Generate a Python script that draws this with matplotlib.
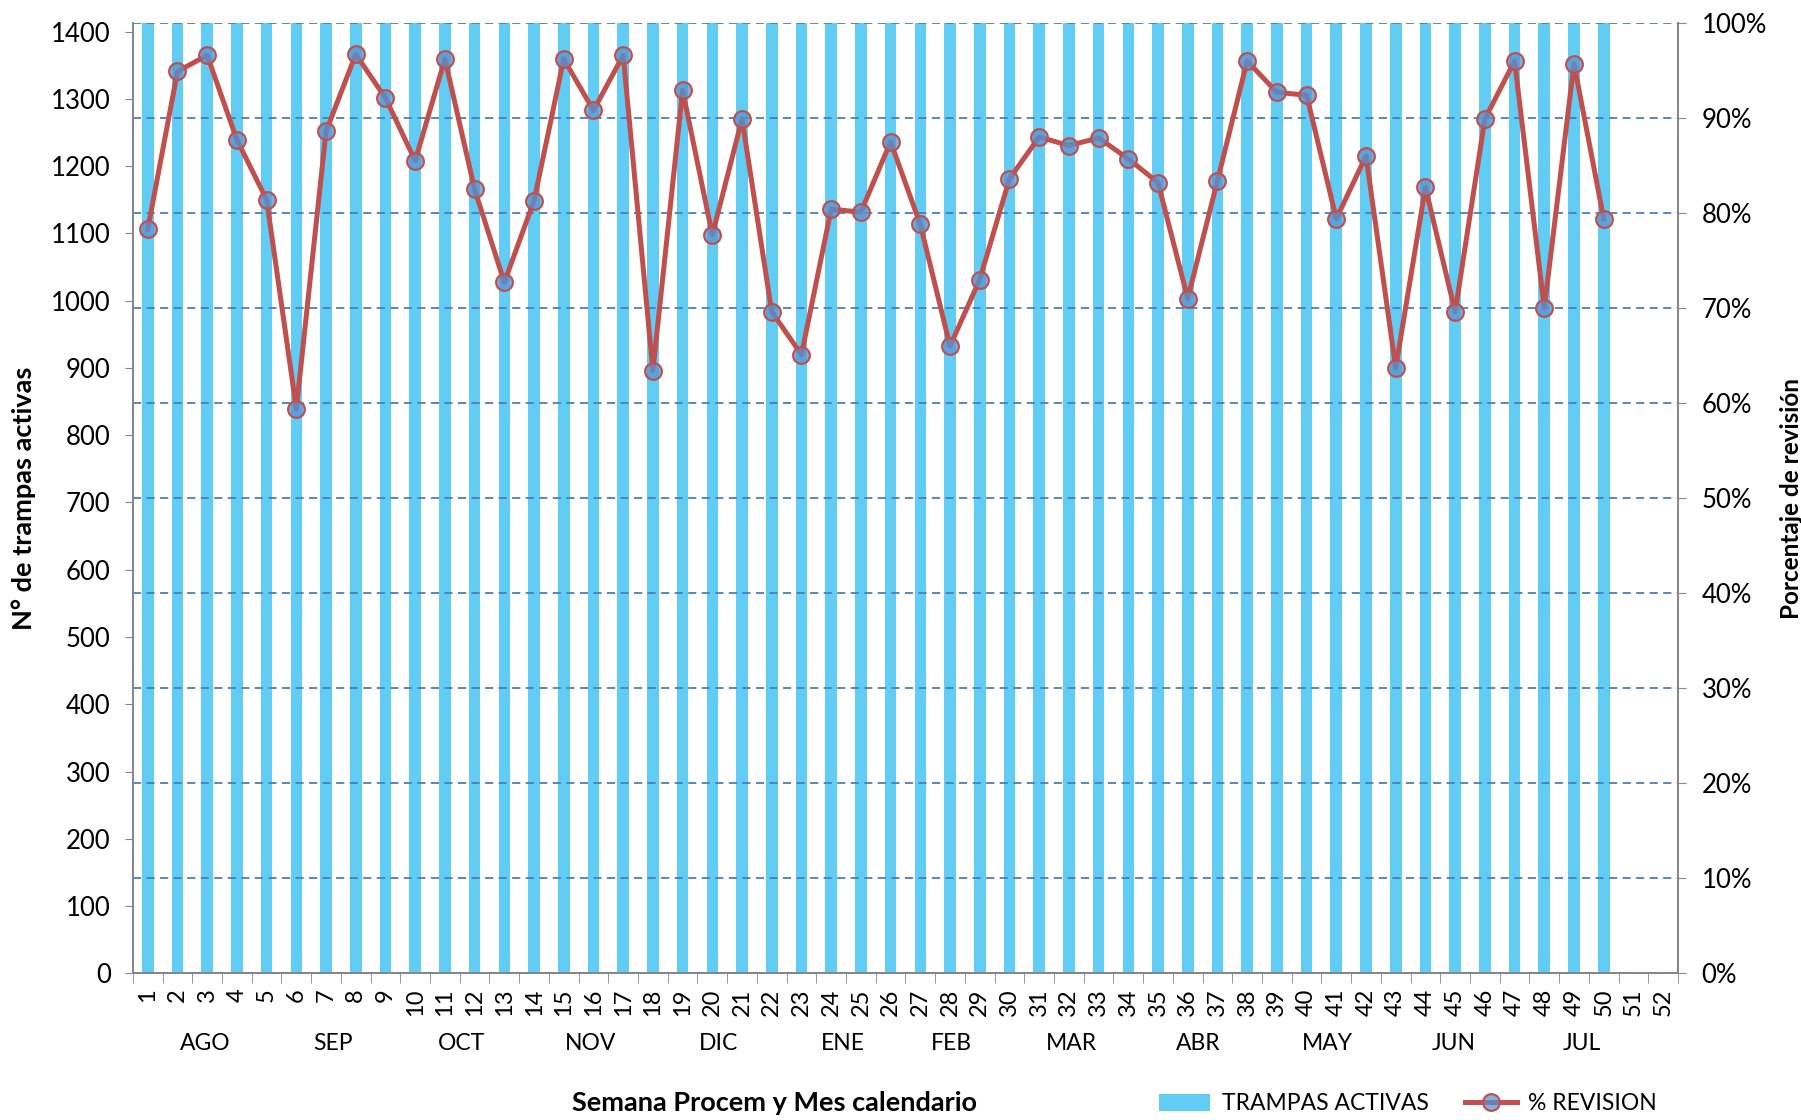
import numpy as np
import matplotlib.pyplot as plt
from matplotlib.patches import Patch
from matplotlib.lines import Line2D
from matplotlib.transforms import blended_transform_factory

plt.rcParams['font.family'] = ['Lato', 'DejaVu Sans']

# semanas 1..52, datos solo hasta la 50
weeks = list(range(1, 53))
trampas_activas = [1413] * 50
pct_revision = [78.3, 94.9, 96.6, 87.7, 81.4, 59.4, 88.6, 96.7, 92.1, 85.5,
                96.2, 82.5, 72.7, 81.3, 96.2, 90.8, 96.6, 63.4, 92.9, 77.7,
                89.9, 69.6, 65.1, 80.4, 80.1, 87.5, 78.8, 66.0, 73.0, 83.6,
                88.0, 87.1, 87.9, 85.7, 83.2, 71.0, 83.4, 96.0, 92.7, 92.4,
                79.4, 86.0, 63.7, 82.7, 69.6, 89.9, 96.0, 70.0, 95.7, 79.4]
months = ['AGO', 'SEP', 'OCT', 'NOV', 'DIC', 'ENE', 'FEB', 'MAR', 'ABR', 'MAY', 'JUN', 'JUL']
month_center_week = [2.94, 7.23, 11.56, 15.89, 20.22, 24.39, 28.03, 32.08, 36.37, 40.7, 44.95, 49.28]

bar_color = '#61CDF4'
line_color = '#C0504D'
grid_color = '#4A7EBB'
axis_gray = '#868686'
marker_face = (0.33, 0.58, 0.84, 0.72)

fig = plt.figure(figsize=(18.01, 11.2), dpi=100)
ax = fig.add_axes([0.0738, 0.131, 0.8579, 0.8485])
ax2 = ax.twinx()

x_bars = np.arange(1, len(trampas_activas) + 1)
ax.bar(x_bars, trampas_activas, width=0.39, color=bar_color, zorder=2)
ax.set_xlim(0.5, 52.5)
ax.set_ylim(0, 1413)
ax.set_yticks(range(0, 1401, 100))
ax.tick_params(axis='y', labelsize=18.5, direction='out', length=6, color=axis_gray, pad=10)

ax.set_xticks(weeks)
ax.set_xticklabels([str(w) for w in weeks], rotation=90, fontsize=17, va='top')
ax.set_xticks(np.arange(0.5, 53, 1), minor=True)
ax.tick_params(axis='x', which='major', length=0, pad=11)
ax.tick_params(axis='x', which='minor', length=7, color=axis_gray, direction='out')

for a in (ax, ax2):
    a.spines['top'].set_visible(False)
    for s in ('left', 'right', 'bottom'):
        a.spines[s].set_color(axis_gray)
        a.spines[s].set_linewidth(1.3)

x_line = np.arange(1, len(pct_revision) + 1)
ax2.set_ylim(0, 100)
ax2.set_yticks(range(0, 101, 10))
ax2.set_yticklabels([f'{v}%' for v in range(0, 101, 10)])
ax2.tick_params(axis='y', labelsize=18.5, direction='out', length=6, color=axis_gray, pad=11)
ax2.grid(axis='y', color=grid_color, linestyle=(0, (4.5, 3)), linewidth=1.3, zorder=1)
ax2.plot(x_line, pct_revision, color=line_color, linewidth=3.6, marker='o',
         markersize=12, markerfacecolor=marker_face,
         markeredgecolor=line_color, markeredgewidth=1.6, zorder=3)

trans = blended_transform_factory(ax.transData, ax.transAxes)
for m, pos in zip(months, month_center_week):
    ax.text(pos, -0.074, m, transform=trans, ha='center', va='center', fontsize=16.5)

ax.set_ylabel('N° de trampas activas', fontsize=19.5, fontweight='bold')
ax2.set_ylabel('Porcentaje de revisión', fontsize=17.5, fontweight='bold')
ax.yaxis.set_label_coords(-0.0628, 0.5)
ax2.yaxis.set_label_coords(1.066, 0.5)

fig.text(0.4303, 0.0155, 'Semana Procem y Mes calendario', ha='center', va='center',
         fontsize=19.5, fontweight='bold')

handles = [Patch(facecolor=bar_color, edgecolor='none'),
           Line2D([0], [0], color=line_color, linewidth=3.6, marker='o', markersize=12,
                  markerfacecolor=marker_face, markeredgecolor=line_color,
                  markeredgewidth=1.6)]
fig.legend(handles, ['TRAMPAS ACTIVAS', '% REVISION'], loc='center left',
           bbox_to_anchor=(0.632, 0.0145), ncol=2, frameon=False, fontsize=16.5,
           handlelength=2.25, handleheight=0.75, handletextpad=0.5, columnspacing=1.6)

fig.savefig('out.png', dpi=100)
